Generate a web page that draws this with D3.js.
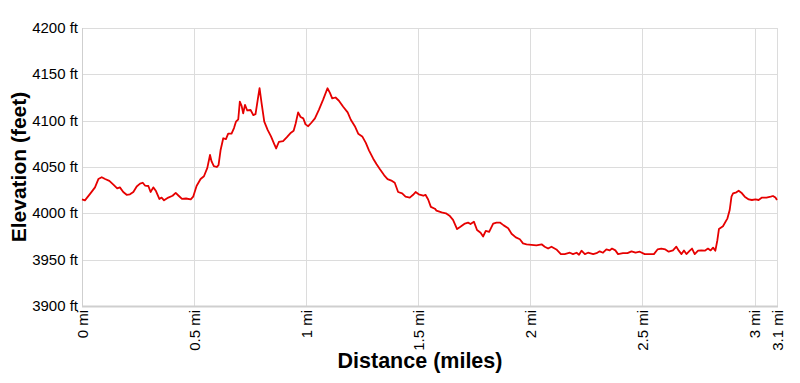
<!DOCTYPE html>
<html>
<head>
<meta charset="utf-8">
<script src="https://cdn.jsdelivr.net/npm/d3@7"></script>
<style>
  html, body { margin: 0; padding: 0; background: #fff; }
  svg { display: block; }
  text { font-family: Arial, "Liberation Sans", sans-serif; fill: #000; }
</style>
</head>
<body>
<svg id="chart" width="800" height="383"></svg>
<script>
// ---- data ----
const distanceMi = [
  0.000, 0.013, 0.036, 0.058, 0.073, 0.088, 0.103, 0.122, 0.140, 0.157,
  0.169, 0.184, 0.199, 0.214, 0.229, 0.244, 0.259, 0.271, 0.281, 0.296,
  0.306, 0.318, 0.330, 0.345, 0.355, 0.366, 0.385, 0.404, 0.418, 0.431,
  0.446, 0.464, 0.485, 0.496, 0.511, 0.529, 0.544, 0.559, 0.571, 0.578,
  0.588, 0.601, 0.609, 0.618, 0.630, 0.642, 0.652, 0.667, 0.678, 0.687,
  0.697, 0.704, 0.712, 0.719, 0.727, 0.737, 0.752, 0.764, 0.774, 0.786,
  0.792, 0.801, 0.813, 0.828, 0.843, 0.857, 0.866, 0.878, 0.897, 0.913,
  0.932, 0.944, 0.953, 0.964, 0.975, 0.987, 0.997, 1.009, 1.024, 1.039,
  1.057, 1.076, 1.095, 1.106, 1.116, 1.131, 1.146, 1.165, 1.185, 1.199,
  1.217, 1.232, 1.250, 1.266, 1.280, 1.299, 1.314, 1.329, 1.348, 1.363,
  1.383, 1.395, 1.410, 1.428, 1.443, 1.462, 1.477, 1.488, 1.502, 1.522,
  1.532, 1.544, 1.556, 1.574, 1.581, 1.604, 1.623, 1.641, 1.655, 1.673,
  1.688, 1.708, 1.722, 1.733, 1.748, 1.762, 1.778, 1.789, 1.801, 1.816,
  1.834, 1.849, 1.864, 1.881, 1.901, 1.916, 1.935, 1.953, 1.967, 1.983,
  2.005, 2.027, 2.050, 2.064, 2.079, 2.094, 2.116, 2.136, 2.153, 2.176,
  2.190, 2.206, 2.217, 2.228, 2.243, 2.257, 2.280, 2.295, 2.309, 2.324,
  2.339, 2.354, 2.364, 2.379, 2.391, 2.413, 2.433, 2.451, 2.469, 2.488,
  2.510, 2.532, 2.551, 2.567, 2.584, 2.602, 2.617, 2.636, 2.651, 2.662,
  2.674, 2.685, 2.696, 2.711, 2.721, 2.733, 2.748, 2.763, 2.778, 2.792,
  2.804, 2.815, 2.825, 2.834, 2.841, 2.859, 2.879, 2.889, 2.897, 2.904,
  2.919, 2.929, 2.941, 2.956, 2.974, 2.988, 3.004, 3.018, 3.033, 3.053,
  3.072, 3.082, 3.093, 3.100
];
const elevationFt = [
  4015, 4014, 4021, 4028, 4037, 4039, 4037, 4035, 4031, 4027,
  4028, 4023, 4020, 4020.5, 4023, 4029, 4032, 4033, 4030, 4029.5,
  4023, 4028, 4024, 4015.5, 4017, 4014, 4017, 4019, 4022, 4019,
  4015.5, 4016, 4015, 4018, 4029.5, 4037, 4040, 4049, 4063, 4056,
  4051, 4050, 4052, 4068, 4081, 4080, 4086, 4086, 4092, 4099,
  4101.5, 4120.5, 4116, 4108, 4117, 4111, 4111.5, 4106, 4107, 4126,
  4135, 4119, 4099, 4090, 4083, 4075, 4070, 4077, 4078, 4082,
  4087, 4089, 4097, 4109, 4104, 4102.5, 4096, 4094, 4098, 4102.5,
  4112, 4123, 4135, 4130, 4124, 4125, 4121.5, 4115, 4109, 4101,
  4094, 4086, 4083, 4076, 4068, 4059, 4053, 4047.5, 4041, 4037,
  4035, 4033, 4023, 4021.5, 4018, 4017, 4020, 4023, 4020.5, 4019,
  4020, 4015, 4007, 4005, 4003, 4001, 4000, 3997, 3993, 3983,
  3985.5, 3989, 3990, 3988.5, 3991, 3982, 3979, 3975, 3981, 3980,
  3989, 3990, 3990, 3987, 3984, 3978, 3974, 3972, 3967.6, 3966.6,
  3966, 3965.5, 3966.6, 3964, 3962, 3964, 3961, 3956, 3956, 3957.5,
  3956, 3957.5, 3955.3, 3959.7, 3956, 3957.5, 3956, 3957, 3959, 3957.5,
  3961, 3960, 3962, 3960, 3956, 3957, 3957, 3959, 3957.5, 3958.6,
  3956, 3956, 3956, 3961, 3962, 3961, 3958.6, 3960, 3964, 3959.7,
  3956, 3960, 3956, 3959.7, 3962, 3956, 3959.7, 3960, 3959.7, 3962,
  3960, 3963, 3959.7, 3971, 3983, 3986, 3994.6, 4003.6, 4018, 4021.5,
  4022.7, 4024.4, 4022.3, 4018, 4015, 4014.4, 4015, 4014.4, 4017, 4017,
  4018, 4018.7, 4017, 4014.4
];
const xTicks = [0, 0.5, 1, 1.5, 2, 2.5, 3, 3.1];
const xTickLabels = ["0 mi", "0.5 mi", "1 mi", "1.5 mi", "2 mi", "2.5 mi", "3 mi", "3.1 mi"];
const yTicks = [3900, 3950, 4000, 4050, 4100, 4150, 4200];
const yTickLabels = ["3900 ft", "3950 ft", "4000 ft", "4050 ft", "4100 ft", "4150 ft", "4200 ft"];
const xTitle = "Distance (miles)";
const yTitle = "Elevation (feet)";

// ---- layout ----
const svg = d3.select("#chart");
const plot = { left: 82, right: 777, top: 28, bottom: 306 };

const x = d3.scaleLinear().domain([0, 3.1]).range([plot.left, plot.right]);
const y = d3.scaleLinear().domain([3900, 4200]).range([plot.bottom, plot.top]);

// horizontal grid
svg.append("g")
  .selectAll("line")
  .data(yTicks)
  .join("line")
  .attr("x1", plot.left).attr("x2", plot.right)
  .attr("y1", d => Math.round(y(d)) + 0.5).attr("y2", d => Math.round(y(d)) + 0.5)
  .attr("stroke", "#dcdcdc").attr("stroke-width", 1);

// vertical grid
svg.append("g")
  .selectAll("line")
  .data(xTicks)
  .join("line")
  .attr("x1", d => Math.round(x(d)) + 0.5).attr("x2", d => Math.round(x(d)) + 0.5)
  .attr("y1", plot.top).attr("y2", plot.bottom)
  .attr("stroke", "#dcdcdc").attr("stroke-width", 1);

// left & bottom border
svg.append("line")
  .attr("x1", plot.left + 0.5).attr("x2", plot.left + 0.5)
  .attr("y1", plot.top).attr("y2", plot.bottom + 1)
  .attr("stroke", "#cfcfcf").attr("stroke-width", 1);
svg.append("line")
  .attr("x1", plot.left).attr("x2", plot.right + 1)
  .attr("y1", plot.bottom + 0.5).attr("y2", plot.bottom + 0.5)
  .attr("stroke", "#cfcfcf").attr("stroke-width", 2);

// y tick labels via axis
const yAxis = d3.axisLeft(y)
  .tickValues(yTicks)
  .tickSize(0)
  .tickPadding(4)
  .tickFormat((d, i) => yTickLabels[i]);
const gy = svg.append("g").attr("transform", `translate(${plot.left},0)`).call(yAxis);
gy.select(".domain").remove();
gy.selectAll("text")
  .style("font-family", "Arial, 'Liberation Sans', sans-serif")
  .style("font-size", "15px")
  .attr("fill", "#000")
  .attr("dy", "0.3em");

// x tick labels via axis, rotated
const xAxis = d3.axisBottom(x)
  .tickValues(xTicks)
  .tickSize(0)
  .tickFormat((d, i) => xTickLabels[i]);
const gx = svg.append("g").attr("transform", `translate(0,${plot.bottom})`).call(xAxis);
gx.select(".domain").remove();
gx.selectAll("text")
  .style("font-family", "Arial, 'Liberation Sans', sans-serif")
  .style("font-size", "15px")
  .attr("fill", "#000")
  .attr("text-anchor", "end")
  .attr("transform", "rotate(-90)")
  .attr("x", -4)
  .attr("y", 0)
  .attr("dy", "0.36em");

// line
const line = d3.line()
  .x((d, i) => x(distanceMi[i]))
  .y(d => y(d));
svg.append("path")
  .datum(elevationFt)
  .attr("d", line)
  .attr("fill", "none")
  .attr("stroke", "#e60000")
  .attr("stroke-width", 1.8)
  .attr("stroke-linejoin", "round");

// axis titles
svg.append("text")
  .attr("x", 420)
  .attr("y", 368)
  .attr("text-anchor", "middle")
  .style("font-size", "21.5px")
  .style("font-weight", "bold")
  .text(xTitle);

svg.append("text")
  .attr("transform", "translate(26,167) rotate(-90)")
  .attr("text-anchor", "middle")
  .style("font-size", "21px")
  .style("font-weight", "bold")
  .text(yTitle);
</script>
</body>
</html>
